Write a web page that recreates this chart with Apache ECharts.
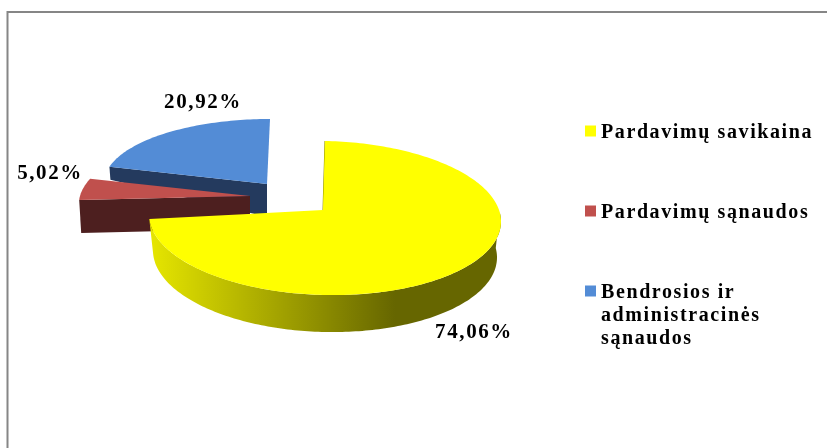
<!DOCTYPE html>
<html><head><meta charset="utf-8">
<style>
html,body{margin:0;padding:0;background:#fff}
#c{width:827px;height:448px;filter:blur(0.4px)}
#c svg text{letter-spacing:1.6px}
</style>
<script src="https://cdn.jsdelivr.net/npm/echarts@6/dist/echarts.min.js"></script>
</head><body><div id="c"></div>
<script>
const categories = ['Pardavimų savikaina', 'Pardavimų sąnaudos', 'Bendrosios ir\nadministracinės\nsąnaudos'];
const shares = [74.06, 5.02, 20.92];
const faceColors = ['#ffff00', '#c0504d', '#538cd6'];
const wallColors = ['#8a8a00', '#4d1f1f', '#243a5e'];

// projection of each exploded slice: tilted ellipse, apex, wall depth, label anchor
const layouts = [
  {cx:325, cy:218, rx:176, ry:77, ax:323, ay:210, depth:36, shrink:4, tilt:0.02, persp:0, lx:474, ly:331, z:4},
  {cx:250, cy:196, rx:170, ry:68, ax:250, ay:196, depth:33, shrink:0, tilt:0, persp:0.11, lx:50, ly:172, z:3},
  {cx:270, cy:183, rx:166, ry:64, ax:267, ay:184, depth:33, shrink:0, tilt:0, persp:0, lx:203, ly:101, z:2}
];
const total = shares.reduce((a, b) => a + b, 0);
const startAngle = i => shares.slice(0, i).reduce((a, b) => a + b, 0) / total * Math.PI * 2;

function rim(l, t, drop, inset) {
  const x = l.cx + (l.rx - inset) * (1 - l.persp * Math.cos(t)) * Math.sin(t);
  const y = l.cy + drop - (l.ry + (drop ? 1 : 0)) * Math.cos(t) + (x - l.cx) * l.tilt;
  return [x, y];
}
function arc(l, a, b, drop, inset) {
  const pts = [], n = Math.max(2, Math.ceil((b - a) / 0.02));
  for (let k = 0; k <= n; k++) pts.push(rim(l, a + (b - a) * k / n, drop, inset));
  return pts;
}
function renderSlice(i) {
  return function (params, api) {
    const l = layouts[i], v = api.value(0);
    const a = startAngle(i), b = a + v / total * Math.PI * 2;
    const apex = [l.ax, l.ay];
    const kids = [];
    const faceStyle = {fill: faceColors[i], stroke: null};
    if (i === 0) {
      const wa = Math.max(a, Math.PI / 2 - 0.12);
      const top = arc(l, wa, b, 0, 0), bot = arc(l, wa, b, l.depth, l.shrink).reverse();
      kids.push({type:'polygon', shape:{points: top.concat(bot)}, style:{
        fill:{type:'linear', x:150, y:0, x2:395, y2:0, global:true, colorStops:[
          {offset:0, color:'#e6e600'}, {offset:1, color:'#666600'}]}, stroke:null}});
      kids.push({type:'polyline', shape:{points:[rim(l, a, 0, 0), apex]}, style:{stroke:wallColors[0], lineWidth:1, fill:null}});
    } else {
      // inner wall facing the viewer, along the slice's first radial edge
      const edge = rim(l, a, 0, 0);
      const offs = i === 1 ? [2, l.depth] : [1, 13];
      kids.push({type:'polygon', shape:{points:[edge, apex, [apex[0], apex[1] + l.depth], [edge[0] + offs[0], edge[1] + offs[1]]]},
        style:{fill: wallColors[i], stroke:null}});
    }
    kids.push({type:'polygon', shape:{points: [apex].concat(arc(l, a, b, 0, 0))}, style: faceStyle});
    kids.push({type:'text', x:l.lx, y:l.ly, style:{
      text: v.toFixed(2).replace('.', ',') + '%', align:'center', verticalAlign:'middle',
      font:'bold 21px "Liberation Serif"', fill:'#000'}});
    return {type:'group', children:kids};
  };
}

const legendTextBase = {fontFamily:'Liberation Serif', fontWeight:'bold', fontSize:20, color:'#000', lineHeight:23};
const legendTops = [119.5, 199.5, 233.5];
const chart = echarts.init(document.getElementById('c'), null, {renderer:'svg'});
chart.setOption({
  animation:false,
  backgroundColor:'#ffffff',
  legend: categories.map((name, i) => ({
    data:[name], left:585, top:legendTops[i], orient:'vertical', padding:0,
    icon:'rect', itemWidth:11, itemHeight:11, itemGap:0, selectedMode:false,
    formatter: i === 2 ? (n => '\n\n' + n) : (n => n),
    textStyle: Object.assign({}, legendTextBase)
  })),
  graphic:[{type:'polyline', silent:true, z:0,
    shape:{points:[[7.5,448],[7.5,12],[827,12]]},
    style:{stroke:'#868686', lineWidth:2, fill:null}}],
  series: categories.map((name, i) => ({
    type:'custom', name, coordinateSystem:'none', z:layouts[i].z,
    itemStyle:{color:faceColors[i]},
    data:[[shares[i]]],
    renderItem: renderSlice(i)
  }))
});
</script></body></html>
